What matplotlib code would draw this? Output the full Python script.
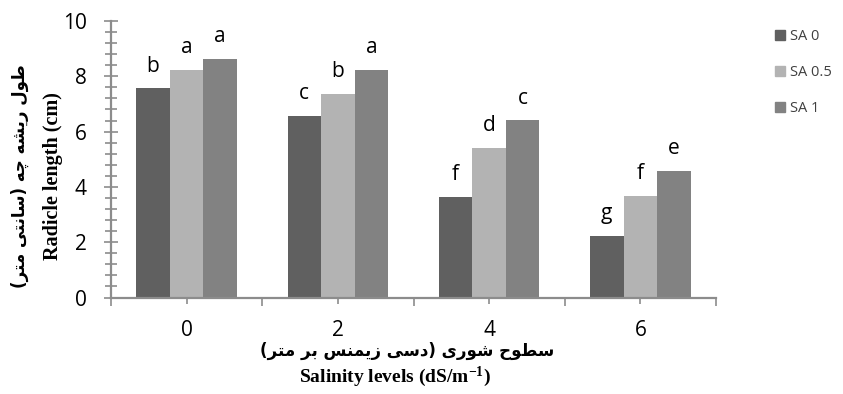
import numpy as np
import matplotlib
matplotlib.use("Agg")
import matplotlib.pyplot as plt
from matplotlib.patches import Patch
from matplotlib.ticker import MultipleLocator, FixedLocator

plt.rcParams['mathtext.fontset'] = 'custom'
plt.rcParams['mathtext.rm'] = 'Liberation Serif:bold'
plt.rcParams['mathtext.default'] = 'rm'

# data
levels = ['0', '2', '4', '6']
series = ['SA 0', 'SA 0.5', 'SA 1']
sa0 = [7.57, 6.58, 3.63, 2.24]
sa05 = [8.24, 7.36, 5.42, 3.68]
sa1 = [8.62, 8.24, 6.41, 4.57]
let0 = ['b', 'c', 'f', 'g']
let05 = ['a', 'b', 'd', 'f']
let1 = ['a', 'a', 'c', 'e']

ylab_fa = 'طول ریشه چه (سانتی متر)'
ylab_en = 'Radicle length (cm)'
xlab_fa = 'سطوح شوری (دسی زیمنس بر متر)'
xlab_en = 'Salinity levels (dS/m$^{-1}$)'

colors = ['#606060', '#b3b3b3', '#828282']

# matplotlib has no Arabic shaping, so pick presentation forms by hand
# (isolated, final, initial, medial)
FORMS = {
    'ا': ('\ufe8d', '\ufe8e', None, None),
    'ب': ('\ufe8f', '\ufe90', '\ufe91', '\ufe92'),
    'ت': ('\ufe95', '\ufe96', '\ufe97', '\ufe98'),
    'ح': ('\ufea1', '\ufea2', '\ufea3', '\ufea4'),
    'د': ('\ufea9', '\ufeaa', None, None),
    'ر': ('\ufead', '\ufeae', None, None),
    'ز': ('\ufeaf', '\ufeb0', None, None),
    'س': ('\ufeb1', '\ufeb2', '\ufeb3', '\ufeb4'),
    'ش': ('\ufeb5', '\ufeb6', '\ufeb7', '\ufeb8'),
    'ط': ('\ufec1', '\ufec2', '\ufec3', '\ufec4'),
    'ل': ('\ufedd', '\ufede', '\ufedf', '\ufee0'),
    'م': ('\ufee1', '\ufee2', '\ufee3', '\ufee4'),
    'ن': ('\ufee5', '\ufee6', '\ufee7', '\ufee8'),
    'ه': ('\ufee9', '\ufeea', '\ufeeb', '\ufeec'),
    'و': ('\ufeed', '\ufeee', None, None),
    'ی': ('\ufbfc', '\ufbfd', '\ufbfe', '\ufbff'),
    'چ': ('\ufb7a', '\ufb7b', '\ufb7c', '\ufb7d'),
}


def fa(text):
    out = []
    for i, ch in enumerate(text):
        if ch not in FORMS:
            out.append(ch)
            continue
        prev = text[i - 1] if i > 0 else ''
        nxt = text[i + 1] if i + 1 < len(text) else ''
        jp = prev in FORMS and FORMS[prev][2] is not None
        jn = nxt in FORMS and FORMS[ch][2] is not None
        iso, fin, ini, med = FORMS[ch]
        if jp and jn:
            out.append(med)
        elif jp:
            out.append(fin)
        elif jn:
            out.append(ini)
        else:
            out.append(iso)
    vis = ''.join(out)[::-1]
    return vis.translate(str.maketrans('()', ')('))


W, H = 843, 394
fig = plt.figure(figsize=(W / 100, H / 100), dpi=100)
ax = fig.add_axes([111 / W, (H - 297.5) / H, (716 - 111) / W, (297.5 - 21) / H])

x = np.arange(len(levels))
bw = 0.222
for k, (vals, labs) in enumerate([(sa0, let0), (sa05, let05), (sa1, let1)]):
    xs = x + (k - 1) * bw
    ax.bar(xs, vals, bw, color=colors[k], label=series[k], zorder=2)
    for xi, v, t in zip(xs, vals, labs):
        ax.annotate(t, (xi, v), xytext=(0, 12), textcoords='offset points',
                    ha='center', va='baseline', fontsize=15, family='Open Sans')

ax.set_xlim(-0.5, 3.5)
ax.set_ylim(0, 10)
ax.yaxis.set_major_locator(MultipleLocator(2))
ax.yaxis.set_minor_locator(MultipleLocator(0.4))
ax.set_xticks(x)
ax.set_xticklabels(levels)
ax.xaxis.set_minor_locator(FixedLocator(np.arange(-0.5, 4, 1)))

gray = '#8c8c8c'
for s in ['top', 'right']:
    ax.spines[s].set_visible(False)
for s in ['left', 'bottom']:
    ax.spines[s].set_color(gray)
    ax.spines[s].set_linewidth(1.6)

ax.tick_params(axis='y', which='major', direction='inout', length=9.4, width=1.2,
               color=gray, pad=12.6, labelsize=15)
ax.tick_params(axis='y', which='minor', direction='inout', length=8, width=1.2, color=gray)
ax.tick_params(axis='x', which='major', direction='inout', length=8, width=1.2,
               color=gray, pad=12.5, labelsize=15)
ax.tick_params(axis='x', which='minor', direction='out', length=6, width=1.2, color=gray)
for lab in ax.get_xticklabels() + ax.get_yticklabels():
    lab.set_family('Open Sans')

# axis titles: Persian line + English line
fig.text(20 / W, 1 - 176 / H, fa(ylab_fa), rotation=90, ha='center', va='center',
         fontsize=12, fontweight='bold', family='DejaVu Sans')
fig.text(53 / W, 1 - 176 / H, ylab_en, rotation=90, ha='center', va='center',
         fontsize=14.5, fontweight='bold', family='Liberation Serif')
fig.text(407 / W, 1 - 351 / H, fa(xlab_fa), ha='center', va='center',
         fontsize=12, fontweight='bold', family='DejaVu Sans')
fig.text(395 / W, 1 - 377 / H, xlab_en, ha='center', va='center',
         fontsize=14, fontweight='bold', family='Liberation Serif')

handles = [Patch(color=c) for c in colors]
leg = fig.legend(handles, series, loc='upper left', bbox_to_anchor=(775 / W, 1 - 29 / H),
                 frameon=False, borderpad=0, borderaxespad=0,
                 handlelength=0.7, handleheight=0.7, handletextpad=0.35,
                 labelspacing=1.45, prop={'family': 'Open Sans', 'size': 10.5})
for t in leg.get_texts():
    t.set_color('#404040')

fig.savefig('out.png', dpi=100)
